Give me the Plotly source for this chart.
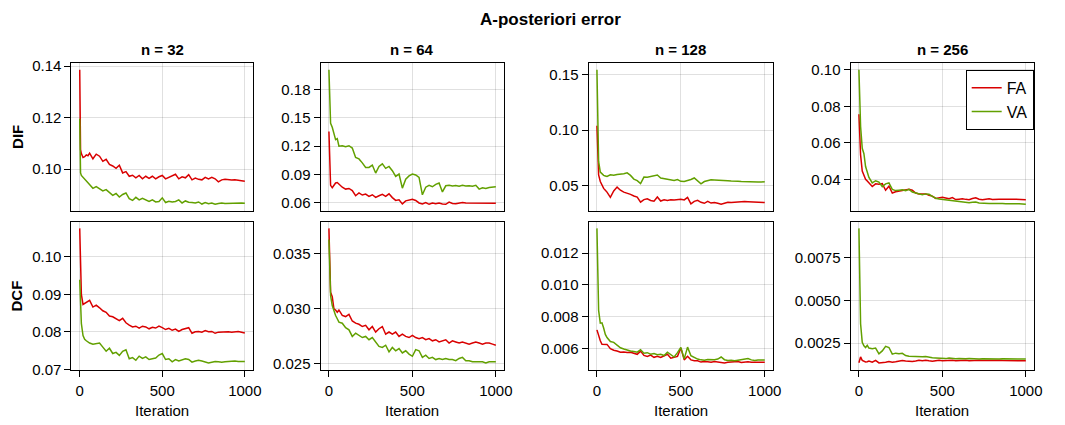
import plotly.graph_objects as go

# Iteration counter shared by every run
ITERATIONS = [0, 5, 10, 20, 30, 40, 50, 60, 80] + list(range(100, 1001, 20))

SIZES = [32, 64, 128, 256]
ERROR_KINDS = ["DIF", "DCF"]
METHODS = ["FA", "VA"]

# ---- DIF error ------------------------------------------------------------
fa_dif_32 = [0.1386, 0.1075, 0.1060, 0.1045, 0.1048, 0.1055, 0.1052, 0.1062, 0.1040,
             0.1058, 0.1050, 0.1030, 0.1038, 0.1018, 0.1012, 0.1003, 0.1015, 0.0985, 0.0990,
             0.0972, 0.0976, 0.0966, 0.0975, 0.0962, 0.0972, 0.0964, 0.0972, 0.0962, 0.0970,
             0.0975, 0.0962, 0.0968, 0.0972, 0.0980, 0.0962, 0.0970, 0.0966, 0.0978, 0.0958,
             0.0965, 0.0960, 0.0958, 0.0968, 0.0962, 0.0968, 0.0962, 0.0950, 0.0958, 0.0960,
             0.0958, 0.0957, 0.0958, 0.0956, 0.0954, 0.0953]
va_dif_32 = [0.1196, 0.0985, 0.0975, 0.0968, 0.0958, 0.0950, 0.0945, 0.0940, 0.0925,
             0.0932, 0.0922, 0.0915, 0.0920, 0.0907, 0.0898, 0.0905, 0.0891, 0.0901, 0.0907,
             0.0885, 0.0878, 0.0890, 0.0880, 0.0886, 0.0880, 0.0874, 0.0880, 0.0872, 0.0874,
             0.0888, 0.0870, 0.0875, 0.0872, 0.0874, 0.0880, 0.0868, 0.0876, 0.0871, 0.0870,
             0.0868, 0.0872, 0.0864, 0.0870, 0.0865, 0.0868, 0.0863, 0.0866, 0.0868, 0.0866,
             0.0867, 0.0866, 0.0868, 0.0867, 0.0868, 0.0867]

fa_dif_64 = [0.1356, 0.0850, 0.0785, 0.0760, 0.0785, 0.0810, 0.0815, 0.0795, 0.0765,
             0.0745, 0.0752, 0.0730, 0.0675, 0.0705, 0.0682, 0.0692, 0.0668, 0.0685, 0.0658,
             0.0675, 0.0690, 0.0668, 0.0695, 0.0655, 0.0625, 0.0632, 0.0588, 0.0620, 0.0632,
             0.0638, 0.0625, 0.0598, 0.0588, 0.0603, 0.0584, 0.0598, 0.0590, 0.0597, 0.0588,
             0.0584, 0.0608, 0.0592, 0.0590, 0.0600, 0.0603, 0.0597, 0.0596, 0.0600, 0.0600,
             0.0598, 0.0594, 0.0597, 0.0596, 0.0592, 0.0594]
va_dif_64 = [0.2010, 0.1600, 0.1443, 0.1400, 0.1340, 0.1270, 0.1280, 0.1200, 0.1205,
             0.1195, 0.1205, 0.1180, 0.1080, 0.1065, 0.1023, 0.0975, 0.0975, 0.1000, 0.0915,
             0.0985, 0.1012, 0.0965, 0.0985, 0.0940, 0.0880, 0.0905, 0.0755, 0.0850, 0.0885,
             0.0905, 0.0895, 0.0870, 0.0685, 0.0765, 0.0785, 0.0770, 0.0795, 0.0810, 0.0715,
             0.0780, 0.0785, 0.0778, 0.0782, 0.0776, 0.0785, 0.0778, 0.0781, 0.0776, 0.0785,
             0.0745, 0.0760, 0.0752, 0.0762, 0.0765, 0.0771]

fa_dif_128 = [0.1040, 0.0700, 0.0600, 0.0540, 0.0500, 0.0478, 0.0462, 0.0445, 0.0398,
              0.0455, 0.0490, 0.0462, 0.0445, 0.0438, 0.0425, 0.0410, 0.0400, 0.0355, 0.0378,
              0.0385, 0.0370, 0.0364, 0.0402, 0.0365, 0.0376, 0.0370, 0.0376, 0.0374, 0.0376,
              0.0380, 0.0375, 0.0398, 0.0340, 0.0362, 0.0372, 0.0354, 0.0345, 0.0362, 0.0347,
              0.0352, 0.0345, 0.0336, 0.0345, 0.0354, 0.0352, 0.0355, 0.0358, 0.0362, 0.0360,
              0.0358, 0.0357, 0.0355, 0.0354, 0.0352, 0.0351]
va_dif_128 = [0.1541, 0.1050, 0.0720, 0.0625, 0.0605, 0.0595, 0.0590, 0.0585, 0.0600,
              0.0597, 0.0602, 0.0603, 0.0610, 0.0618, 0.0595, 0.0562, 0.0548, 0.0522, 0.0580,
              0.0578, 0.0586, 0.0595, 0.0598, 0.0572, 0.0568, 0.0562, 0.0555, 0.0550, 0.0558,
              0.0542, 0.0540, 0.0548, 0.0558, 0.0572, 0.0545, 0.0520, 0.0540, 0.0550, 0.0555,
              0.0553, 0.0550, 0.0546, 0.0545, 0.0546, 0.0544, 0.0545, 0.0543, 0.0540, 0.0538,
              0.0539, 0.0537, 0.0534, 0.0536, 0.0535, 0.0538]

fa_dif_256 = [0.0756, 0.0620, 0.0534, 0.0445, 0.0425, 0.0400, 0.0390, 0.0380, 0.0360,
              0.0375, 0.0373, 0.0376, 0.0340, 0.0362, 0.0325, 0.0332, 0.0336, 0.0340, 0.0341,
              0.0345, 0.0340, 0.0325, 0.0320, 0.0318, 0.0320, 0.0313, 0.0308, 0.0295, 0.0298,
              0.0302, 0.0298, 0.0294, 0.0300, 0.0289, 0.0291, 0.0293, 0.0290, 0.0288, 0.0295,
              0.0299, 0.0291, 0.0288, 0.0291, 0.0293, 0.0289, 0.0288, 0.0291, 0.0291, 0.0290,
              0.0290, 0.0291, 0.0291, 0.0289, 0.0288, 0.0288]
va_dif_256 = [0.1000, 0.0800, 0.0690, 0.0570, 0.0540, 0.0470, 0.0440, 0.0410, 0.0380,
              0.0392, 0.0385, 0.0360, 0.0375, 0.0380, 0.0345, 0.0338, 0.0340, 0.0342, 0.0338,
              0.0345, 0.0330, 0.0326, 0.0322, 0.0316, 0.0320, 0.0318, 0.0306, 0.0296, 0.0292,
              0.0290, 0.0288, 0.0284, 0.0281, 0.0278, 0.0276, 0.0275, 0.0274, 0.0271, 0.0274,
              0.0276, 0.0270, 0.0268, 0.0267, 0.0268, 0.0267, 0.0268, 0.0267, 0.0267, 0.0266,
              0.0267, 0.0267, 0.0266, 0.0266, 0.0264, 0.0263]

# ---- DCF error ------------------------------------------------------------
fa_dcf_32 = [0.1076, 0.0960, 0.0900, 0.0873, 0.0876, 0.0878, 0.0882, 0.0884, 0.0866,
             0.0871, 0.0864, 0.0856, 0.0852, 0.0842, 0.0840, 0.0836, 0.0830, 0.0836, 0.0824,
             0.0818, 0.0813, 0.0815, 0.0810, 0.0815, 0.0813, 0.0808, 0.0812, 0.0810, 0.0815,
             0.0811, 0.0806, 0.0809, 0.0804, 0.0807, 0.0801, 0.0806, 0.0808, 0.0811, 0.0796,
             0.0800, 0.0801, 0.0799, 0.0803, 0.0800, 0.0801, 0.0796, 0.0799, 0.0800, 0.0801,
             0.0800, 0.0799, 0.0800, 0.0801, 0.0799, 0.0797]
va_dcf_32 = [0.0939, 0.0860, 0.0822, 0.0790, 0.0780, 0.0776, 0.0772, 0.0770, 0.0767,
             0.0768, 0.0770, 0.0759, 0.0748, 0.0756, 0.0742, 0.0745, 0.0737, 0.0748, 0.0752,
             0.0728, 0.0731, 0.0724, 0.0735, 0.0729, 0.0733, 0.0726, 0.0729, 0.0730, 0.0738,
             0.0742, 0.0726, 0.0728, 0.0720, 0.0726, 0.0722, 0.0724, 0.0728, 0.0726, 0.0719,
             0.0722, 0.0724, 0.0722, 0.0720, 0.0717, 0.0719, 0.0721, 0.0720, 0.0719, 0.0720,
             0.0721, 0.0722, 0.0722, 0.0721, 0.0720, 0.0721]

fa_dcf_64 = [0.0373, 0.0340, 0.0315, 0.0311, 0.0300, 0.0299, 0.0297, 0.0299, 0.0294,
             0.0293, 0.0295, 0.0289, 0.0287, 0.0286, 0.0284, 0.0285, 0.0281, 0.0284, 0.0279,
             0.0282, 0.0284, 0.0277, 0.0279, 0.0277, 0.0279, 0.0275, 0.0277, 0.0275, 0.0274,
             0.0276, 0.0274, 0.0273, 0.0274, 0.0272, 0.0273, 0.0271, 0.0272, 0.0270, 0.0271,
             0.0272, 0.0269, 0.0271, 0.0270, 0.0269, 0.0270, 0.0269, 0.0268, 0.0269, 0.0270,
             0.0269, 0.0268, 0.0269, 0.0269, 0.0268, 0.0267]
va_dcf_64 = [0.0363, 0.0332, 0.0312, 0.0303, 0.0298, 0.0294, 0.0291, 0.0288, 0.0287,
             0.0283, 0.0281, 0.0275, 0.0278, 0.0276, 0.0274, 0.0275, 0.0272, 0.0274, 0.0270,
             0.0266, 0.0265, 0.0267, 0.0261, 0.0265, 0.0262, 0.0264, 0.0260, 0.0262, 0.0259,
             0.0257, 0.0263, 0.0262, 0.0256, 0.0258, 0.0255, 0.0256, 0.0254, 0.0255, 0.0254,
             0.0255, 0.0254, 0.0254, 0.0253, 0.0255, 0.0256, 0.0253, 0.0253, 0.0252, 0.0252,
             0.0252, 0.0252, 0.0251, 0.0252, 0.0252, 0.0252]

fa_dcf_128 = [0.00718, 0.00700, 0.00685, 0.00650, 0.00628, 0.00628, 0.00630, 0.00627, 0.00600,
              0.00590, 0.00586, 0.00578, 0.00580, 0.00576, 0.00578, 0.00570, 0.00565, 0.00585, 0.00558,
              0.00552, 0.00560, 0.00546, 0.00552, 0.00545, 0.00555, 0.00565, 0.00540, 0.00546, 0.00552,
              0.00605, 0.00530, 0.00552, 0.00530, 0.00525, 0.00524, 0.00516, 0.00520, 0.00518, 0.00515,
              0.00520, 0.00518, 0.00512, 0.00511, 0.00515, 0.00516, 0.00518, 0.00519, 0.00514, 0.00516,
              0.00518, 0.00515, 0.00515, 0.00516, 0.00514, 0.00515]
va_dcf_128 = [0.01355, 0.01000, 0.00840, 0.00760, 0.00762, 0.00730, 0.00690, 0.00670, 0.00645,
              0.00640, 0.00620, 0.00606, 0.00598, 0.00590, 0.00586, 0.00582, 0.00578, 0.00594, 0.00572,
              0.00575, 0.00566, 0.00570, 0.00562, 0.00565, 0.00557, 0.00578, 0.00563, 0.00548, 0.00575,
              0.00608, 0.00536, 0.00610, 0.00556, 0.00545, 0.00535, 0.00530, 0.00527, 0.00532, 0.00530,
              0.00531, 0.00535, 0.00548, 0.00531, 0.00526, 0.00527, 0.00525, 0.00528, 0.00531, 0.00534,
              0.00538, 0.00530, 0.00526, 0.00529, 0.00530, 0.00529]

fa_dcf_256 = [0.00136, 0.00150, 0.00170, 0.00150, 0.00143, 0.00140, 0.00142, 0.00146, 0.00139,
              0.00150, 0.00135, 0.00136, 0.00139, 0.00143, 0.00139, 0.00142, 0.00144, 0.00149, 0.00146,
              0.00144, 0.00143, 0.00146, 0.00150, 0.00148, 0.00150, 0.00147, 0.00145, 0.00148, 0.00150,
              0.00147, 0.00149, 0.00147, 0.00150, 0.00148, 0.00150, 0.00149, 0.00150, 0.00148, 0.00150,
              0.00149, 0.00150, 0.00149, 0.00150, 0.00149, 0.00148, 0.00149, 0.00150, 0.00149, 0.00148,
              0.00149, 0.00148, 0.00149, 0.00148, 0.00148, 0.00148]
va_dcf_256 = [0.00922, 0.00520, 0.00364, 0.00255, 0.00235, 0.00225, 0.00238, 0.00222, 0.00218,
              0.00222, 0.00188, 0.00205, 0.00232, 0.00225, 0.00186, 0.00192, 0.00189, 0.00191, 0.00178,
              0.00174, 0.00173, 0.00171, 0.00170, 0.00171, 0.00173, 0.00168, 0.00165, 0.00164, 0.00163,
              0.00161, 0.00160, 0.00164, 0.00160, 0.00159, 0.00160, 0.00158, 0.00159, 0.00160, 0.00158,
              0.00159, 0.00158, 0.00159, 0.00158, 0.00158, 0.00159, 0.00158, 0.00158, 0.00159, 0.00158,
              0.00158, 0.00159, 0.00158, 0.00158, 0.00158, 0.00158]

# Tick values and their printed labels for each panel (row, column)
X_TICKS = [0, 500, 1000]
X_TICK_TEXT = ["0", "500", "1000"]
Y_TICKS = {
    ("DIF", 32): [0.10, 0.12, 0.14],
    ("DIF", 64): [0.06, 0.09, 0.12, 0.15, 0.18],
    ("DIF", 128): [0.05, 0.10, 0.15],
    ("DIF", 256): [0.04, 0.06, 0.08, 0.10],
    ("DCF", 32): [0.07, 0.08, 0.09, 0.10],
    ("DCF", 64): [0.025, 0.030, 0.035],
    ("DCF", 128): [0.006, 0.008, 0.010, 0.012],
    ("DCF", 256): [0.0025, 0.0050, 0.0075],
}
Y_TICK_TEXT = {
    ("DIF", 32): ["0.10", "0.12", "0.14"],
    ("DIF", 64): ["0.06", "0.09", "0.12", "0.15", "0.18"],
    ("DIF", 128): ["0.05", "0.10", "0.15"],
    ("DIF", 256): ["0.04", "0.06", "0.08", "0.10"],
    ("DCF", 32): ["0.07", "0.08", "0.09", "0.10"],
    ("DCF", 64): ["0.025", "0.030", "0.035"],
    ("DCF", 128): ["0.006", "0.008", "0.010", "0.012"],
    ("DCF", 256): ["0.0025", "0.0050", "0.0075"],
}

SERIES = {
    ("DIF", 32): (fa_dif_32, va_dif_32),
    ("DIF", 64): (fa_dif_64, va_dif_64),
    ("DIF", 128): (fa_dif_128, va_dif_128),
    ("DIF", 256): (fa_dif_256, va_dif_256),
    ("DCF", 32): (fa_dcf_32, va_dcf_32),
    ("DCF", 64): (fa_dcf_64, va_dcf_64),
    ("DCF", 128): (fa_dcf_128, va_dcf_128),
    ("DCF", 256): (fa_dcf_256, va_dcf_256),
}

# ---- styling / layout -----------------------------------------------------
W, H = 1065, 425
FONT = "Liberation Sans, Arial, Helvetica, sans-serif"
COLORS = {"FA": "#d90000", "VA": "#62a000"}
GRID = "rgba(0,0,0,0.12)"

COL_PX = [(72, 255), (323, 508), (593, 779), (857, 1042)]
ROW_PX = [(59, 212), (223, 376)]


def xfrac(px):
    return px / W


def yfrac(px):
    return 1 - px / H


def padded(lo, hi, frac=0.05):
    span = hi - lo
    return [lo - frac * span, hi + frac * span]


fig = go.Figure()
layout = dict(
    width=W, height=H,
    margin=dict(l=0, r=0, t=0, b=0),
    paper_bgcolor="white", plot_bgcolor="white",
    font=dict(family=FONT, size=15, color="black"),
    showlegend=True,
    legend=dict(
        x=xfrac(973), y=yfrac(66), xanchor="left", yanchor="top",
        bgcolor="white", bordercolor="black", borderwidth=1,
        font=dict(family=FONT, size=16, color="black"),
        tracegroupgap=0, itemwidth=30,
    ),
)
annotations = []

for r, kind in enumerate(ERROR_KINDS):
    for c, n in enumerate(SIZES):
        k = r * 4 + c + 1
        xa = "x" if k == 1 else f"x{k}"
        ya = "y" if k == 1 else f"y{k}"
        fa, va = SERIES[(kind, n)]
        for name, vals in zip(METHODS, (fa, va)):
            fig.add_trace(go.Scatter(
                x=ITERATIONS, y=vals, mode="lines", name=name,
                line=dict(color=COLORS[name], width=1.5),
                xaxis=xa, yaxis=ya,
                showlegend=(r == 0 and c == 3),
                legendgroup=name,
            ))
        allv = list(fa) + list(va)
        bottom = r == 1
        layout[f"xaxis{'' if k == 1 else k}"] = dict(
            domain=[xfrac(COL_PX[c][0]), xfrac(COL_PX[c][1])],
            anchor=ya, range=padded(0, 1000),
            tickmode="array", tickvals=X_TICKS, ticktext=X_TICK_TEXT,
            showticklabels=bottom, ticks="outside" if bottom else "",
            ticklen=6, tickcolor="black", tickwidth=1, ticklabelstandoff=1,
            showgrid=True, gridcolor=GRID, gridwidth=1, zeroline=False,
            showline=True, linecolor="black", linewidth=1, mirror=True,
            tickfont=dict(family=FONT, size=15, color="black"),
        )
        layout[f"yaxis{'' if k == 1 else k}"] = dict(
            domain=[yfrac(ROW_PX[r][1]), yfrac(ROW_PX[r][0])],
            anchor=xa, range=padded(min(allv), max(allv)),
            tickmode="array", tickvals=Y_TICKS[(kind, n)], ticktext=Y_TICK_TEXT[(kind, n)],
            ticks="outside", ticklen=6, tickcolor="black", tickwidth=1,
            showgrid=True, gridcolor=GRID, gridwidth=1, zeroline=False,
            showline=True, linecolor="black", linewidth=1, mirror=True,
            tickfont=dict(family=FONT, size=15, color="black"),
        )
        if r == 0:
            annotations.append(dict(
                text=f"<b>n = {n}</b>", xref="paper", yref="paper",
                x=xfrac((COL_PX[c][0] + COL_PX[c][1]) / 2), y=yfrac(45),
                xanchor="center", yanchor="middle", showarrow=False,
                font=dict(family=FONT, size=15, color="black"),
            ))
        else:
            annotations.append(dict(
                text="Iteration", xref="paper", yref="paper",
                x=xfrac((COL_PX[c][0] + COL_PX[c][1]) / 2), y=yfrac(418),
                xanchor="center", yanchor="middle", showarrow=False,
                font=dict(family=FONT, size=15, color="black"),
            ))
    annotations.append(dict(
        text=f"<b>{kind}</b>", xref="paper", yref="paper",
        x=xfrac(17), y=yfrac((ROW_PX[r][0] + ROW_PX[r][1]) / 2),
        xanchor="center", yanchor="middle", textangle=-90, showarrow=False,
        font=dict(family=FONT, size=15, color="black"),
    ))

annotations.append(dict(
    text="<b>A-posteriori error</b>", xref="paper", yref="paper",
    x=xfrac(555), y=yfrac(14), xanchor="center", yanchor="middle", showarrow=False,
    font=dict(family=FONT, size=17, color="black"),
))

layout["annotations"] = annotations
fig.update_layout(**layout)
fig.write_html("out.html")
